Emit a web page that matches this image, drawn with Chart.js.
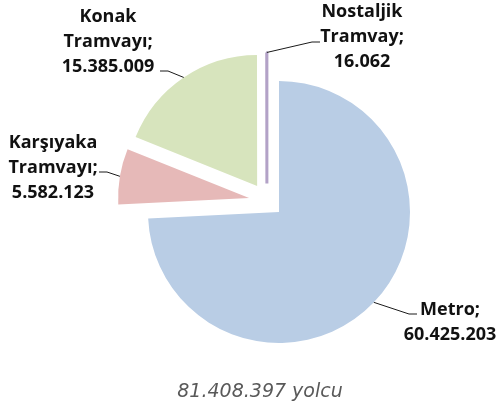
<!DOCTYPE html>
<html>
<head>
<meta charset="utf-8">
<script src="https://cdn.jsdelivr.net/npm/chart.js@4.4.1/dist/chart.umd.min.js"></script>
<style>
  html, body { margin: 0; padding: 0; background: #fff; }
  #wrap { width: 499px; height: 410px; }
</style>
</head>
<body>
<div id="wrap"><canvas id="ridershipChart"></canvas></div>
<script>
// Yolcu sayilari, hat bazinda
const lines = ['Metro', 'Karşıyaka Tramvayı', 'Konak Tramvayı', 'Nostaljik Tramvay'];
const passengers = [60425203, 5582123, 15385009, 16062];
const sliceColors = ['#b9cde5', '#e6b9b8', '#d7e4bd', '#b3a2c7'];

// dilimlerin disari cekilmesi: mesafe (px) ve yon (derece, saat 12'den saat yonunde)
const explodeDist = [0, 33, 34, 31];
const explodeDir = [0, 295, 320, 337];

// etiket yerlesimi: metin merkezi, ilk satir taban cizgisi, kilavuz cizgi ucu, yon
const labelPos = [
    { cx: 450, y: 315, ex: 417, ey: 314, side: 1 },
    { cx: 53, y: 148, ex: 99, ey: 172, side: -1 },
    { cx: 108, y: 22, ex: 160, ey: 71, side: -1 },
    { cx: 362, y: 17, ex: 320, ey: 42, side: 1 }
];

const fmt = v => String(v).replace(/\B(?=(\d{3})+(?!\d))/g, '.');
const total = passengers.reduce((a, b) => a + b, 0);

function explodeVec(i) {
    const a = explodeDir[i] * Math.PI / 180;
    return { dx: explodeDist[i] * Math.sin(a), dy: -explodeDist[i] * Math.cos(a) };
}

// her dilimi kendi yonunde kaydirarak ciz
const explodePlugin = {
    id: 'explode',
    beforeDatasetDraw(chart, args) {
        const ctx = chart.ctx;
        args.meta.data.forEach((arc, i) => {
            const { dx, dy } = explodeVec(i);
            ctx.save();
            ctx.translate(dx, dy);
            arc.draw(ctx);
            ctx.restore();
        });
        return false;
    }
};

// veri etiketleri + kilavuz cizgiler + toplam
const labelPlugin = {
    id: 'sliceLabels',
    afterDatasetsDraw(chart) {
        const ctx = chart.ctx;
        const meta = chart.getDatasetMeta(0);
        ctx.save();
        meta.data.forEach((arc, i) => {
            const p = arc.getProps(['x', 'y', 'startAngle', 'endAngle', 'outerRadius'], true);
            const { dx, dy } = explodeVec(i);
            const mid = (p.startAngle + p.endAngle) / 2;
            const ax = p.x + dx + Math.cos(mid) * p.outerRadius;
            const ay = p.y + dy + Math.sin(mid) * p.outerRadius;
            const lp = labelPos[i];

            ctx.strokeStyle = '#1a1a1a';
            ctx.lineWidth = 1;
            ctx.beginPath();
            ctx.moveTo(ax, ay);
            ctx.lineTo(lp.ex - lp.side * 8, lp.ey);
            ctx.lineTo(lp.ex, lp.ey);
            ctx.stroke();

            const words = lines[i].split(' ');
            words[words.length - 1] += ';';
            const txt = words.concat([fmt(passengers[i])]);
            ctx.fillStyle = '#111';
            ctx.font = 'bold 18px "Open Sans"';
            ctx.textAlign = 'center';
            ctx.textBaseline = 'alphabetic';
            txt.forEach((t, k) => ctx.fillText(t, lp.cx, lp.y + k * 25));
        });

        ctx.fillStyle = '#595959';
        ctx.font = 'italic 19px "DejaVu Sans"';
        ctx.textAlign = 'center';
        ctx.fillText(fmt(total) + ' yolcu', 260, 397);
        ctx.restore();
    }
};

new Chart(document.getElementById('ridershipChart'), {
    type: 'pie',
    data: {
        labels: lines,
        datasets: [{
            data: passengers,
            backgroundColor: sliceColors,
            borderColor: sliceColors,
            borderWidth: [0, 0, 0, 3],
            radius: 131
        }]
    },
    options: {
        responsive: true,
        maintainAspectRatio: false,
        animation: false,
        layout: { padding: { left: 148, right: 89, top: 81, bottom: 67 } },
        plugins: {
            legend: { display: false },
            tooltip: { enabled: false }
        }
    },
    plugins: [explodePlugin, labelPlugin]
});
</script>
</body>
</html>
